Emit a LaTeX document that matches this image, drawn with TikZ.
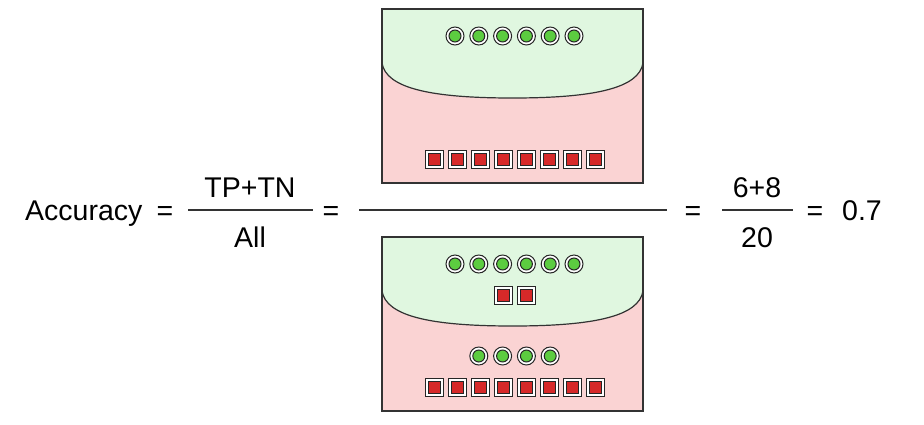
\documentclass[tikz,border=0pt]{standalone}
\usepackage{fontspec}
\setmainfont{Liberation Sans}
\definecolor{posbg}{RGB}{224,247,224}
\definecolor{negbg}{RGB}{250,211,211}
\definecolor{posc}{RGB}{92,204,64}
\definecolor{negc}{RGB}{214,41,41}
\tikzset{
  txt/.style={inner sep=0pt, font=\fontsize{28.5}{34}\selectfont},
  posdot/.style={circle, inner sep=0pt, minimum size=18pt, fill=white, draw=black!85,
    line width=1pt,
    path picture={\draw[fill=posc, draw=black!85, line width=1pt] (path picture bounding box.center) circle (6pt);}},
  negdot/.style={rectangle, inner sep=0pt, minimum size=18pt, fill=white, draw=black!85,
    line width=1pt,
    path picture={\draw[fill=negc, draw=black!85, line width=1pt] ([shift={(-6pt,-6pt)}]path picture bounding box.center) rectangle ([shift={(6pt,6pt)}]path picture bounding box.center);}},
  boxline/.style={draw=black!80, line width=1.2pt},
  fracline/.style={draw=black!80, line width=1.2pt}
}
\begin{document}
\begin{tikzpicture}[x=1pt,y=-1pt]
\useasboundingbox (0,0) rectangle (924,424);
% ---- top box ----
\begin{scope}
\fill[negbg] (382,9) rectangle (643,183);
\fill[posbg] (382,9) -- (382,63) .. controls (386,88) and (430,98) .. (512.5,98)
   .. controls (595,98) and (639,88) .. (643,63) -- (643,9) -- cycle;
\draw[boxline] (382,63) .. controls (386,88) and (430,98) .. (512.5,98)
   .. controls (595,98) and (639,88) .. (643,63);
\node[boxline, rectangle, minimum width=261pt, minimum height=174pt, inner sep=0pt] (topbox) at (512.5,96) {};
\foreach \i in {0,...,5} \node[posdot] (tp\i) at ({455+23.8*\i},36) {};
\foreach \i in {0,...,7} \node[negdot] (tn\i) at ({434+23*\i},159) {};
\end{scope}
% ---- bottom box ----
\begin{scope}[yshift=-228pt]
\fill[negbg] (382,9) rectangle (643,183);
\fill[posbg] (382,9) -- (382,63) .. controls (386,88) and (430,98) .. (512.5,98)
   .. controls (595,98) and (639,88) .. (643,63) -- (643,9) -- cycle;
\draw[boxline] (382,63) .. controls (386,88) and (430,98) .. (512.5,98)
   .. controls (595,98) and (639,88) .. (643,63);
\node[boxline, rectangle, minimum width=261pt, minimum height=174pt, inner sep=0pt] (allbox) at (512.5,96) {};
\foreach \i in {0,...,5} \node[posdot] (ap\i) at ({455+23.8*\i},36) {};
\foreach \i in {3,4} \node[negdot] (afp\i) at ({434+23*\i},67) {};
\foreach \i in {1,...,4} \node[posdot] (afn\i) at ({455+23.8*\i},128) {};
\foreach \i in {0,...,7} \node[negdot] (an\i) at ({434+23*\i},159) {};
\end{scope}
% ---- equation ----
\node[txt, anchor=base west] (acc) at (25,220) {Accuracy};
\node[txt, anchor=base] (eq1) at (165,220) {=};
\node[txt, anchor=base] (num1) at (250,197) {TP+TN};
\node[txt, anchor=base] (den1) at (250,247) {All};
\coordinate (f1a) at (188,210); \coordinate (f1b) at (313,210);
\draw[fracline] (f1a) -- (f1b);
\node[txt, anchor=base] (eq2) at (331,220) {=};
\coordinate (f2a) at (359,210); \coordinate (f2b) at (667,210);
\draw[fracline] (f2a) -- (f2b);
\node[txt, anchor=base] (eq3) at (693,220) {=};
\node[txt, anchor=base] (num3) at (757,197) {6+8};
\node[txt, anchor=base] (den3) at (757,247) {20};
\coordinate (f3a) at (722,210); \coordinate (f3b) at (793,210);
\draw[fracline] (f3a) -- (f3b);
\node[txt, anchor=base] (eq4) at (815,220) {=};
\node[txt, anchor=base] (res) at (862,220) {0.7};
\end{tikzpicture}
\end{document}
